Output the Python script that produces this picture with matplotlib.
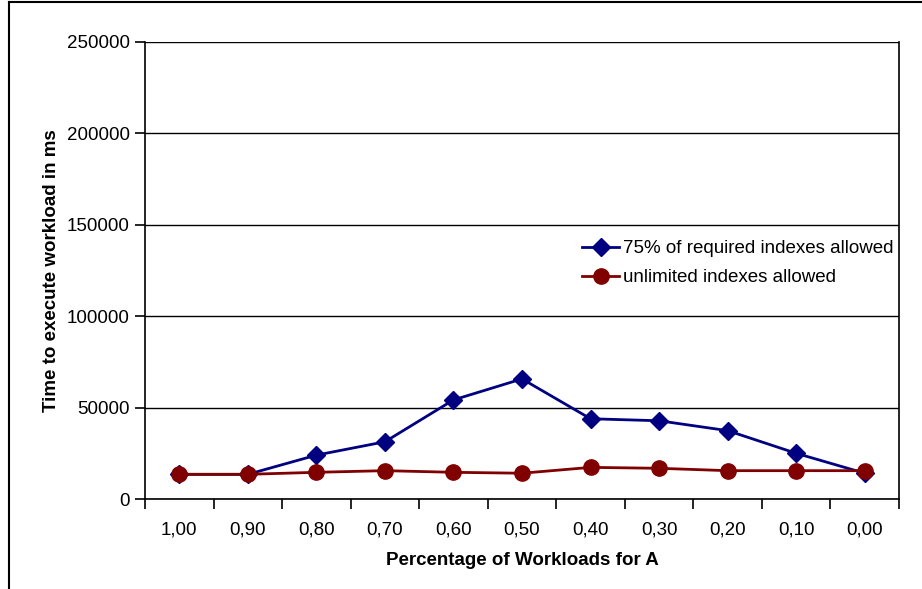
import matplotlib.pyplot as plt
from matplotlib.lines import Line2D

plt.rcParams['font.family'] = ['Liberation Sans', 'DejaVu Sans']

# data
categories = ["1,00", "0,90", "0,80", "0,70", "0,60", "0,50", "0,40", "0,30", "0,20", "0,10", "0,00"]
limited = [13500, 13500, 24000, 31300, 54200, 65700, 43900, 42800, 37400, 25000, 14100]
unlimited = [13500, 13500, 14600, 15500, 14600, 14100, 17300, 16800, 15500, 15500, 15500]
yticks = [0, 50000, 100000, 150000, 200000, 250000]

fig = plt.figure(figsize=(9.22, 5.89), dpi=100)
ax = fig.add_axes([145 / 922, 1 - 499 / 589, (899 - 145) / 922, (499 - 42) / 589])

x = list(range(len(categories)))
ax.plot(x, limited, color="#000080", linewidth=2.0, marker="D", markersize=9,
        label="75% of required indexes allowed")
ax.plot(x, unlimited, color="#800000", linewidth=2.0, marker="o", markersize=11,
        label="unlimited indexes allowed")

ax.set_xlim(-0.5, len(categories) - 0.5)
ax.set_ylim(0, 250000)
ax.set_yticks(yticks)
ax.set_yticklabels([str(v) for v in yticks], fontsize=13.5)
ax.set_xticks(x)
ax.set_xticklabels(categories, fontsize=13.5)
ax.tick_params(axis='x', length=0, pad=16)
ax.set_xticks([i - 0.5 for i in range(len(categories) + 1)], minor=True)
ax.tick_params(axis='x', which='minor', length=7, width=1.2, color='black')
ax.tick_params(axis='y', length=7, width=1.2, pad=4)
ax.grid(axis='y', color='black', linewidth=1.0)
ax.set_axisbelow(True)

for s in ax.spines.values():
    s.set_linewidth(1.2)
ax.spines['top'].set_visible(False)

ax.set_xlabel("Percentage of Workloads for A", fontsize=13.5, fontweight='bold', labelpad=10)
ax.set_ylabel("Time to execute workload in ms", fontsize=13.5, fontweight='bold', labelpad=5)

ax.legend(loc='upper left', bbox_to_anchor=(0.557, 0.603), frameon=False, fontsize=13.5,
          handlelength=2.0, handletextpad=0.2, labelspacing=0.62)

# outer chart frame (cropped at right and bottom)
fig.add_artist(Line2D([9 / 922, 9 / 922], [0, 1 - 2 / 589], color='black', linewidth=1.5,
                      transform=fig.transFigure))
fig.add_artist(Line2D([9 / 922, 1], [1 - 2 / 589, 1 - 2 / 589], color='black', linewidth=1.5,
                      transform=fig.transFigure))

fig.savefig("out.png", dpi=100)
